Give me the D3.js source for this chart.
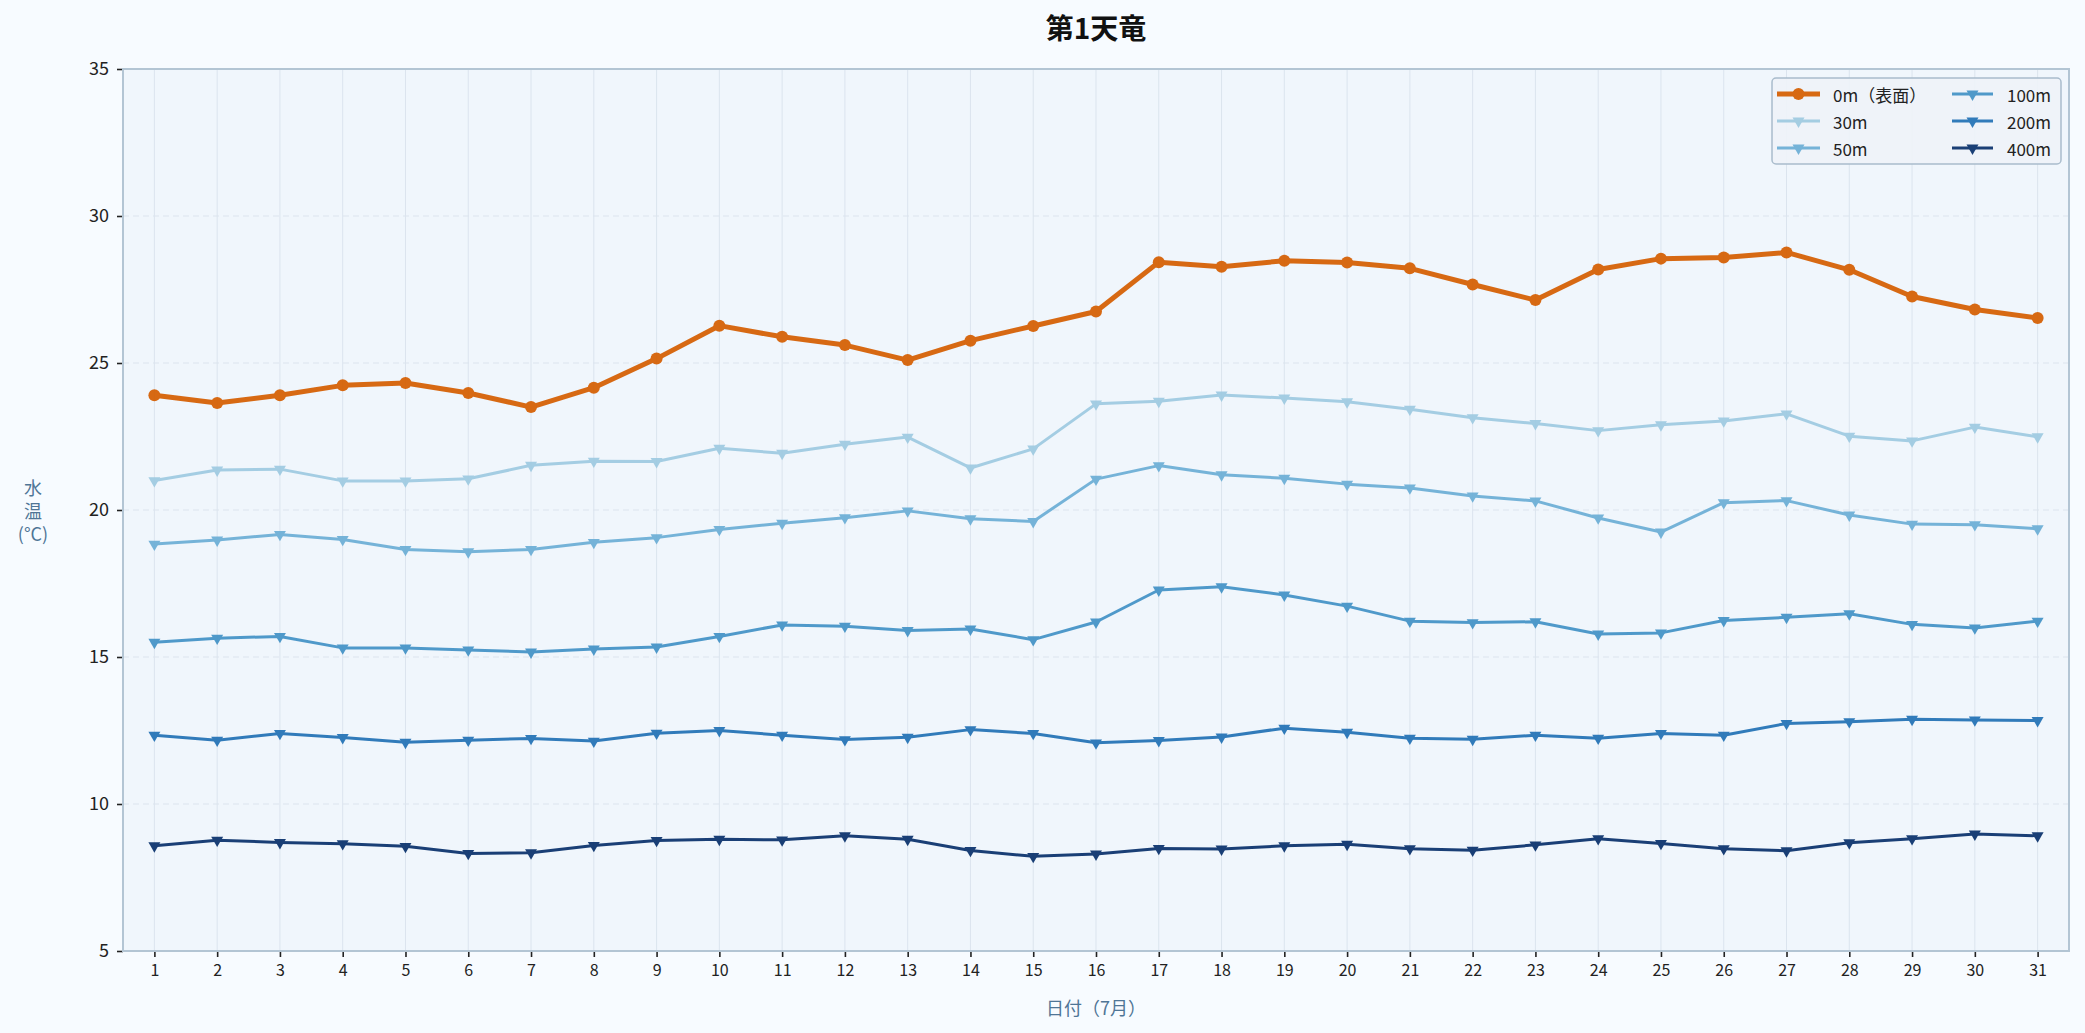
<!DOCTYPE html>
<html>
<head>
<meta charset="utf-8">
<script src="https://cdn.jsdelivr.net/npm/d3@7"></script>
<style>
  html, body { margin: 0; padding: 0; background: #f7fbff; }
  svg { display: block; }
  text { font-family: "Noto Sans CJK JP", "Noto Sans", sans-serif; }
</style>
</head>
<body>
<svg id="chart" width="2085" height="1033"></svg>
<script>
const days = [1,2,3,4,5,6,7,8,9,10,11,12,13,14,15,16,17,18,19,20,21,22,23,24,25,26,27,28,29,30,31];
const seriesNames = ["0m（表面）", "30m", "50m", "100m", "200m", "400m"];
const t0   = [23.90,23.64,23.90,24.24,24.32,23.98,23.50,24.16,25.15,26.27,25.89,25.61,25.10,25.76,26.26,26.75,28.43,28.27,28.48,28.42,28.22,27.67,27.14,28.18,28.55,28.59,28.76,28.17,27.26,26.82,26.53];
const t30  = [21.00,21.36,21.39,20.99,20.99,21.06,21.52,21.66,21.65,22.10,21.93,22.24,22.48,21.43,22.08,23.61,23.70,23.91,23.81,23.68,23.43,23.14,22.94,22.70,22.90,23.03,23.27,22.51,22.35,22.82,22.49];
const t50  = [18.84,18.98,19.17,19.00,18.66,18.58,18.66,18.90,19.06,19.34,19.55,19.74,19.97,19.70,19.61,21.05,21.51,21.20,21.08,20.88,20.75,20.48,20.31,19.73,19.25,20.25,20.32,19.83,19.52,19.50,19.36];
const t100 = [15.50,15.64,15.70,15.31,15.31,15.24,15.17,15.27,15.34,15.70,16.09,16.05,15.90,15.95,15.59,16.19,17.28,17.39,17.11,16.73,16.22,16.17,16.20,15.78,15.82,16.24,16.35,16.47,16.11,15.99,16.22];
const t200 = [12.34,12.17,12.40,12.26,12.10,12.17,12.23,12.14,12.41,12.50,12.34,12.19,12.27,12.53,12.40,12.08,12.16,12.28,12.58,12.44,12.24,12.20,12.34,12.24,12.40,12.34,12.74,12.80,12.88,12.86,12.84];
const t400 = [8.58,8.77,8.69,8.65,8.56,8.32,8.34,8.59,8.76,8.80,8.78,8.92,8.80,8.42,8.22,8.30,8.49,8.47,8.58,8.63,8.48,8.43,8.61,8.82,8.66,8.48,8.41,8.68,8.82,8.98,8.92];
const yTicks = [5,10,15,20,25,30,35];
const titleText = "第1天竜";
const xLabel = "日付（7月）";
const yLabelLines = ["水", "温", "(°C)"];

const series = [
  {name: seriesNames[0], values: t0,   color: "#d55e00", width: 5.0, marker: "circle"},
  {name: seriesNames[1], values: t30,  color: "#9ecae1", width: 3.0, marker: "tri"},
  {name: seriesNames[2], values: t50,  color: "#6baed6", width: 3.0, marker: "tri"},
  {name: seriesNames[3], values: t100, color: "#4292c6", width: 3.0, marker: "tri"},
  {name: seriesNames[4], values: t200, color: "#2171b5", width: 3.0, marker: "tri"},
  {name: seriesNames[5], values: t400, color: "#08306b", width: 3.0, marker: "tri"}
];

const M = {left: 123, right: 2069, top: 69, bottom: 951};
const svg = d3.select("#chart");

svg.append("rect").attr("width", 2085).attr("height", 1033).attr("fill", "#f7fbff");

const x = d3.scaleLinear().domain([0.5, 31.5]).range([M.left, M.right]);
const y = d3.scaleLinear().domain([5, 35]).range([M.bottom, M.top]);

svg.append("rect")
  .attr("x", M.left).attr("y", M.top)
  .attr("width", M.right - M.left).attr("height", M.bottom - M.top)
  .attr("fill", "#f0f6fc");

const grid = svg.append("g");
grid.selectAll("line.vx").data(days).join("line")
  .attr("x1", d => x(d)).attr("x2", d => x(d))
  .attr("y1", M.top).attr("y2", M.bottom)
  .attr("stroke", "#dbe4ee").attr("stroke-width", 1);
grid.selectAll("line.hy").data(yTicks).join("line")
  .attr("x1", M.left).attr("x2", M.right)
  .attr("y1", d => y(d)).attr("y2", d => y(d))
  .attr("stroke", "#dbe4ee").attr("stroke-width", 1.2)
  .attr("stroke-dasharray", "6,4");

const xAxis = d3.axisBottom(x).tickValues(days).tickFormat(d3.format("d")).tickSizeOuter(0).tickSize(6).tickPadding(8);
const yAxis = d3.axisLeft(y).tickValues(yTicks).tickFormat(d3.format("d")).tickSizeOuter(0).tickSize(6).tickPadding(8);

const gx = svg.append("g").attr("transform", `translate(0,${M.bottom})`).call(xAxis);
gx.select(".domain").remove();
gx.selectAll(".tick line").attr("stroke", "#222").attr("stroke-width", 1.6);
gx.selectAll(".tick text").attr("fill", "#222").style("font-size", "16px");

const gy = svg.append("g").attr("transform", `translate(${M.left},0)`).call(yAxis);
gy.select(".domain").remove();
gy.selectAll(".tick line").attr("stroke", "#222").attr("stroke-width", 1.6);
gy.selectAll(".tick text").attr("fill", "#222").style("font-size", "18px");

svg.append("rect")
  .attr("x", M.left).attr("y", M.top)
  .attr("width", M.right - M.left).attr("height", M.bottom - M.top)
  .attr("fill", "none").attr("stroke", "#b3c5d4").attr("stroke-width", 2);

const line = d3.line().x((d, i) => x(days[i])).y(d => y(d));
const triangle = d3.symbol().type(d3.symbolTriangle).size(62);

series.forEach(s => {
  const g = svg.append("g").attr("opacity", 0.92);
  g.append("path").datum(s.values)
    .attr("d", line)
    .attr("fill", "none")
    .attr("stroke", s.color)
    .attr("stroke-width", s.width)
    .attr("stroke-linejoin", "round");
  if (s.marker === "circle") {
    g.selectAll("circle").data(s.values).join("circle")
      .attr("cx", (d, i) => x(days[i])).attr("cy", d => y(d))
      .attr("r", 6).attr("fill", s.color);
  } else {
    g.selectAll("path.m").data(s.values).join("path")
      .attr("class", "m")
      .attr("d", triangle)
      .attr("transform", (d, i) => `translate(${x(days[i])},${y(d)}) rotate(180)`)
      .attr("fill", s.color);
  }
});

svg.append("text")
  .attr("x", (M.left + M.right) / 2).attr("y", 27)
  .attr("text-anchor", "middle").attr("dominant-baseline", "central")
  .style("font-size", "28px").style("font-weight", "bold").attr("fill", "#111")
  .text(titleText);

svg.append("text")
  .attr("x", (M.left + M.right) / 2).attr("y", 1007)
  .attr("text-anchor", "middle").attr("dominant-baseline", "central")
  .style("font-size", "18px").attr("fill", "#4f7596")
  .text(xLabel);

const yl = svg.append("text")
  .attr("text-anchor", "middle")
  .style("font-size", "18px").attr("fill", "#4f7596");
yLabelLines.forEach((t, i) => {
  yl.append("tspan").attr("x", 33).attr("y", 487 + i * 23).attr("dominant-baseline", "central").text(t);
});

const L = {x: 1772, y: 78, w: 289, h: 86};
const lg = svg.append("g");
lg.append("rect")
  .attr("x", L.x).attr("y", L.y).attr("width", L.w).attr("height", L.h)
  .attr("rx", 4).attr("fill", "#eef3f8").attr("fill-opacity", 0.9)
  .attr("stroke", "#a9bccc").attr("stroke-width", 1.5);

const colX = [1777, 1952];
const textX = [1833, 2007];
const rowY = [94, 121, 148];
series.forEach((s, i) => {
  const col = Math.floor(i / 3), row = i % 3;
  const hx = colX[col], hy = rowY[row];
  const hw = col === 0 ? 43 : 41;
  const g = lg.append("g").attr("opacity", 0.92);
  g.append("line")
    .attr("x1", hx).attr("x2", hx + hw).attr("y1", hy).attr("y2", hy)
    .attr("stroke", s.color).attr("stroke-width", s.width);
  if (s.marker === "circle") {
    g.append("circle").attr("cx", hx + hw / 2).attr("cy", hy).attr("r", 6).attr("fill", s.color);
  } else {
    g.append("path").attr("d", triangle)
      .attr("transform", `translate(${hx + hw / 2},${hy}) rotate(180)`)
      .attr("fill", s.color);
  }
  lg.append("text")
    .attr("x", textX[col]).attr("y", hy)
    .attr("dominant-baseline", "central")
    .style("font-size", "17px").attr("fill", "#222")
    .text(s.name);
});
</script>
</body>
</html>
